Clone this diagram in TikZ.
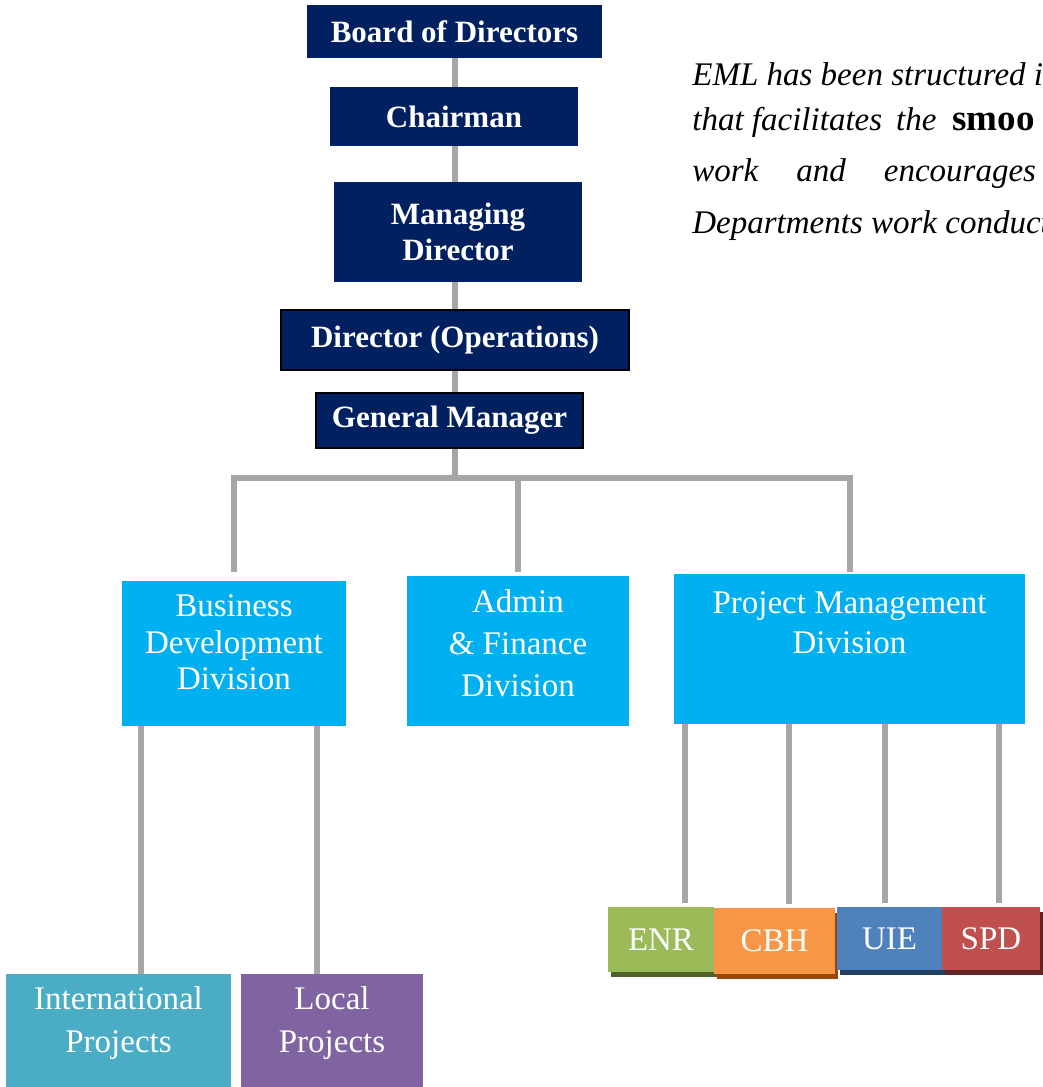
\documentclass[tikz,border=0pt]{standalone}
\usepackage{fontspec}
\setmainfont{Liberation Serif}
\usetikzlibrary{positioning,backgrounds,shadows}

\definecolor{navy}{RGB}{0,32,96}
\definecolor{divblue}{RGB}{0,176,240}
\definecolor{linegray}{RGB}{166,166,166}
\definecolor{intlcol}{RGB}{75,172,198}
\definecolor{localcol}{RGB}{128,100,162}
\definecolor{enrcol}{RGB}{155,187,89}
\definecolor{enrdark}{RGB}{79,98,40}
\definecolor{cbhcol}{RGB}{247,150,70}
\definecolor{cbhdark}{RGB}{151,72,6}
\definecolor{uiecol}{RGB}{79,129,189}
\definecolor{uiedark}{RGB}{36,64,97}
\definecolor{spdcol}{RGB}{192,80,77}
\definecolor{spddark}{RGB}{99,37,35}

\tikzset{every picture/.style={line width=0.75pt}}
\tikzset{
  topbox/.style={fill=navy, text=white, inner sep=0pt, align=center,
    font=\bfseries\fontsize{31}{36}\selectfont},
  framed/.style={draw=black, line width=2pt},
  plainbox/.style={fill=#1, inner sep=0pt},
  boxtext/.style={text=white, inner sep=0pt, align=center,
    font=\fontsize{33}{#1}\selectfont},
  unitbox/.style 2 args={fill=#1, text=white, inner sep=0pt,
    font=\fontsize{33}{36}\selectfont,
    drop shadow={shadow xshift=3pt, shadow yshift=-5pt, fill=#2, opacity=1}},
  conn/.style={draw=linegray, line width=6pt},
  paratext/.style={anchor=base west, inner sep=0pt,
    font=\itshape\fontsize{33}{38}\selectfont}
}

\begin{document}
\begin{tikzpicture}[x=1pt,y=1pt,yscale=-1,xscale=1]
\useasboundingbox (0,0) rectangle (1043,1087);
\clip (0,0) rectangle (1043,1087);

% Top management
\node [topbox, minimum width=295pt, minimum height=53pt] (bod) at (454.5,31.5) {Board of Directors};
\node [topbox, minimum width=248pt, minimum height=59pt] (chair) at (454,116.5) {Chairman};
\node [topbox, minimum width=248pt, minimum height=100pt] (md) at (458,232) {Managing\\Director};
\node [topbox, framed, minimum width=348pt, minimum height=60pt] (dirops) at (455,340) {Director (Operations)};
\node [topbox, framed, minimum width=267pt, minimum height=55pt] (gm) at (449.5,420.5) {General Manager};
\coordinate (bus) at (455,478);

% Divisions
\node [plainbox=divblue, minimum width=224pt, minimum height=145pt] (bdd) at (234,653.5) {};
\node [boxtext=36.5, below=14pt of bdd.north] (bddt) {Business\\Development\\Division};
\node [plainbox=divblue, minimum width=222pt, minimum height=150pt] (afd) at (518,651) {};
\node [boxtext=42, below=14pt of afd.north] (afdt) {Admin\\\& Finance\\Division};
\node [plainbox=divblue, minimum width=351pt, minimum height=150pt] (pmd) at (849.5,649) {};
\node [boxtext=40, below=18pt of pmd.north] (pmdt) {Project Management\\Division};

% Business development units
\node [plainbox=intlcol, minimum width=225pt, minimum height=126pt] (intl) at (118.5,1037) {};
\node [boxtext=43, below=13pt of intl.north] (intlt) {International\\Projects};
\node [plainbox=localcol, minimum width=182pt, minimum height=126pt] (local) at (332,1037) {};
\node [boxtext=43, below=13pt of local.north] (localt) {Local\\Projects};

% Project management units
\node [unitbox={enrcol}{enrdark}, minimum width=106pt, minimum height=65pt] (enr) at (661,939.5) {ENR};
\node [unitbox={cbhcol}{cbhdark}, minimum width=121pt, minimum height=66pt] (cbh) at (774.5,941) {CBH};
\node [unitbox={uiecol}{uiedark}, minimum width=105pt, minimum height=63pt] (uie) at (889.5,938.5) {UIE};
\node [unitbox={spdcol}{spddark}, minimum width=98pt, minimum height=63pt] (spd) at (991,938.5) {SPD};

% Connectors
\begin{scope}[on background layer]
\draw [conn] (bod.center) -- (bod.center |- bus);
\draw [conn, shorten <=9pt, shorten >=2pt] (bdd.north) |- (bus) -| (pmd.north);
\draw [conn, shorten >=4pt] (bus -| afd.north) -- (afd.north);
\draw [conn] ([xshift=-93pt]bdd.south) -- ([xshift=-93pt]bdd.south |- intl.north);
\draw [conn] ([xshift=83pt]bdd.south) -- ([xshift=83pt]bdd.south |- local.north);
\draw [conn, shorten >=4pt] ([xshift=-164.5pt]pmd.south) -- ([xshift=-164.5pt]pmd.south |- enr.north);
\draw [conn, shorten >=4pt] ([xshift=-60.5pt]pmd.south) -- ([xshift=-60.5pt]pmd.south |- cbh.north);
\draw [conn, shorten >=4pt] ([xshift=35.5pt]pmd.south) -- ([xshift=35.5pt]pmd.south |- uie.north);
\draw [conn, shorten >=4pt] ([xshift=149.5pt]pmd.south) -- ([xshift=149.5pt]pmd.south |- spd.north);
\end{scope}

% Text Node
\node [paratext] (para1) at (692,85) {EML has been structured i};
\node [paratext] (para2) at (692,130) {that facilitates\hspace{14pt}the\hspace{16pt}{\bfseries\upshape\fontsize{37}{38}\selectfont smoo}};
\node [paratext] (para3) at (692,181) {work\hspace{38pt}and\hspace{38pt}encourages};
\node [paratext] (para4) at (692,233) {Departments work conduct};

\end{tikzpicture}
\end{document}
